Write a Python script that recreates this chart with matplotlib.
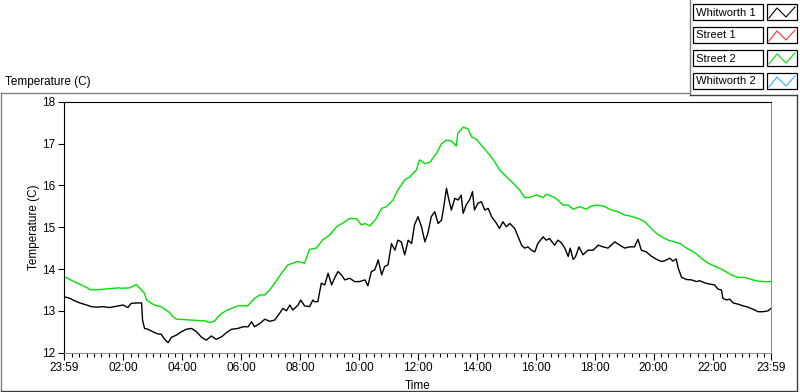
import numpy as np
import matplotlib
matplotlib.use("Agg")
import matplotlib.pyplot as plt
from matplotlib.patches import Rectangle
from matplotlib.lines import Line2D

plt.rcParams['font.family'] = ['Liberation Sans', 'DejaVu Sans']

# minutes after 23:59, temperatures
whit1_t = [0, 12, 22, 32, 46, 56, 66, 79, 93, 107, 120, 130, 137, 151, 158, 160, 164, 171, 181, 191,
           198, 205, 212, 219, 229, 239, 249, 260, 270, 280, 290, 300, 310, 321, 331, 341, 354, 365, 375, 382,
           388, 399, 409, 419, 429, 439, 446, 453, 460, 466, 477, 482, 490, 500, 507, 510, 517, 524, 531, 538,
           545, 551, 558, 565, 572, 582, 592, 602, 613, 619, 626, 633, 640, 647, 653, 660, 667, 674, 680, 687,
           694, 701, 708, 714, 721, 728, 735, 741, 748, 755, 762, 769, 773, 779, 784, 789, 796, 803, 809, 813,
           819, 826, 832, 836, 843, 850, 857, 864, 871, 881, 887, 894, 901, 908, 918, 925, 932, 938, 945, 952,
           959, 965, 976, 982, 989, 999, 1006, 1013, 1020, 1027, 1031, 1037, 1042, 1049, 1057, 1067, 1078, 1088, 1098, 1108,
           1122, 1132, 1142, 1152, 1162, 1169, 1176, 1186, 1196, 1207, 1217, 1224, 1234, 1240, 1247, 1251, 1258, 1268, 1278, 1288,
           1295, 1305, 1315, 1325, 1332, 1339, 1342, 1349, 1356, 1363, 1373, 1383, 1393, 1403, 1414, 1424, 1434, 1440]
whit1 = [13.34, 13.30, 13.24, 13.19, 13.14, 13.10, 13.09, 13.10, 13.08, 13.11, 13.14, 13.08, 13.18, 13.19, 13.19, 12.78, 12.58, 12.56, 12.50, 12.45,
         12.44, 12.32, 12.24, 12.37, 12.42, 12.50, 12.56, 12.58, 12.50, 12.37, 12.30, 12.40, 12.32, 12.38, 12.48, 12.56, 12.58, 12.62, 12.62, 12.74,
         12.62, 12.70, 12.80, 12.75, 12.78, 12.94, 13.06, 13.00, 13.14, 13.02, 13.14, 13.26, 13.12, 13.10, 13.26, 13.22, 13.22, 13.66, 13.62, 13.90,
         13.62, 13.78, 13.94, 13.86, 13.74, 13.78, 13.70, 13.70, 13.74, 13.60, 13.94, 13.98, 14.22, 13.86, 14.06, 14.10, 14.61, 14.45, 14.69, 14.65,
         14.34, 14.69, 14.61, 15.06, 15.25, 15.02, 14.65, 14.85, 15.25, 15.37, 15.09, 15.17, 15.45, 15.93, 15.65, 15.41, 15.69, 15.65, 15.77, 15.33,
         15.53, 15.65, 15.85, 15.41, 15.57, 15.61, 15.41, 15.45, 15.25, 15.09, 14.97, 15.13, 15.01, 15.09, 14.97, 14.77, 14.57, 14.50, 14.53, 14.45,
         14.41, 14.61, 14.77, 14.69, 14.73, 14.57, 14.69, 14.63, 14.50, 14.30, 14.50, 14.23, 14.30, 14.53, 14.34, 14.45, 14.45, 14.57, 14.53, 14.50,
         14.65, 14.57, 14.50, 14.53, 14.53, 14.71, 14.45, 14.41, 14.31, 14.23, 14.18, 14.20, 14.26, 14.19, 14.24, 14.02, 13.80, 13.75, 13.74, 13.70,
         13.72, 13.67, 13.64, 13.62, 13.52, 13.50, 13.30, 13.26, 13.28, 13.19, 13.16, 13.12, 13.09, 13.04, 12.98, 12.98, 13.00, 13.06]

street2_t = [0, 17, 35, 46, 52, 63, 111, 118, 134, 147, 164, 168, 178, 188, 198, 215, 222, 229, 232, 287,
             297, 307, 313, 321, 333, 354, 374, 388, 399, 409, 419, 429, 443, 456, 466, 476, 490, 500, 514, 527,
             541, 555, 568, 582, 596, 606, 613, 623, 636, 647, 657, 670, 680, 694, 704, 718, 724, 735, 745, 759,
             769, 779, 789, 799, 802, 813, 823, 830, 840, 853, 864, 877, 887, 901, 915, 928, 938, 948, 962, 976,
             982, 996, 1006, 1016, 1027, 1037, 1050, 1064, 1071, 1084, 1098, 1115, 1128, 1142, 1152, 1169, 1183, 1196, 1207, 1220,
             1231, 1255, 1268, 1285, 1298, 1312, 1325, 1342, 1359, 1373, 1387, 1403, 1414, 1424, 1440]
street2 = [13.82, 13.72, 13.62, 13.56, 13.51, 13.50, 13.55, 13.54, 13.55, 13.63, 13.42, 13.26, 13.18, 13.12, 13.10, 12.96, 12.86, 12.80, 12.80, 12.76,
           12.72, 12.76, 12.85, 12.94, 13.02, 13.12, 13.12, 13.30, 13.38, 13.38, 13.50, 13.66, 13.90, 14.10, 14.14, 14.18, 14.14, 14.47, 14.50, 14.70,
           14.81, 15.01, 15.10, 15.21, 15.20, 15.05, 15.09, 15.03, 15.21, 15.45, 15.49, 15.65, 15.89, 16.13, 16.20, 16.37, 16.61, 16.52, 16.55, 16.77,
           17.00, 17.08, 17.06, 16.94, 17.24, 17.39, 17.35, 17.16, 17.10, 16.92, 16.77, 16.57, 16.37, 16.21, 16.05, 15.89, 15.71, 15.71, 15.77, 15.71,
           15.79, 15.73, 15.65, 15.53, 15.53, 15.43, 15.49, 15.43, 15.49, 15.53, 15.51, 15.41, 15.37, 15.29, 15.27, 15.21, 15.13, 14.97, 14.85, 14.75,
           14.69, 14.61, 14.50, 14.39, 14.26, 14.14, 14.07, 13.98, 13.86, 13.80, 13.80, 13.74, 13.71, 13.70, 13.70]

major_ticks = [0, 121, 241, 361, 481, 601, 721, 841, 961, 1081, 1201, 1321, 1440]
major_labels = ["23:59", "02:00", "04:00", "06:00", "08:00", "10:00", "12:00",
                "14:00", "16:00", "18:00", "20:00", "22:00", "23:59"]
legend_names = ["Whitworth 1", "Street 1", "Street 2", "Whitworth 2"]
legend_colors = ["black", "#ff3030", "#00e000", "#30b0ff"]

W, H = 800, 392
fig = plt.figure(figsize=(8, 3.92), dpi=100)


def fx(x):
    return x / W


def fy(y):
    return 1 - y / H


ax = fig.add_axes([fx(64), fy(352.7), fx(771) - fx(64), fy(101.7) - fy(352.7)])
ax.plot(street2_t, street2, color="#00e000", lw=1)
ax.plot(whit1_t, whit1, color="black", lw=1)
ax.set_xlim(0, 1440)
ax.set_ylim(12, 18)
ax.set_yticks(range(12, 19))
ax.set_xticks(major_ticks)
ax.set_xticklabels(major_labels)
ax.set_xticks(np.arange(1, 1440, 15), minor=True)
ax.tick_params(axis="both", which="major", labelsize=8.5, length=4, width=0.8, pad=2)
ax.tick_params(axis="x", which="major", length=5)
ax.tick_params(axis="x", which="minor", length=3, width=0.8)
ax.spines["left"].set_color("black")
ax.spines["top"].set_color("black")
ax.spines["right"].set_color("#909090")
ax.spines["bottom"].set_color("#909090")
ax.set_ylabel("Temperature (C)", fontsize=8.5, labelpad=2)
ax.set_xlabel("Time", fontsize=8.5, labelpad=4)

# outer panel frame and caption
fig.text(fx(5), fy(82), "Temperature (C)", fontsize=8.5, va="center", ha="left")
fig.add_artist(Line2D([fx(0.5), fx(690)], [fy(92.5), fy(92.5)], color="#808080", lw=1))
fig.add_artist(Line2D([fx(0.5), fx(0.5)], [fy(92.5), fy(391.5)], color="#808080", lw=1))
fig.add_artist(Line2D([fx(0.5), fx(797)], [fy(391), fy(391)], color="#404040", lw=1))
fig.add_artist(Line2D([fx(797), fx(797)], [fy(95), fy(391)], color="#404040", lw=1))
fig.add_artist(Line2D([fx(689.5), fx(689.5)], [fy(0), fy(95)], color="#808080", lw=1))
fig.add_artist(Line2D([fx(689.5), fx(797)], [fy(95), fy(95)], color="#404040", lw=1))

# legend
for i, (name, col) in enumerate(zip(legend_names, legend_colors)):
    top = 4 + 23 * i
    fig.add_artist(Rectangle((fx(693), fy(top + 16)), fx(70), 16 / H, transform=fig.transFigure,
                             facecolor="white", edgecolor="black", lw=0.9))
    fig.text(fx(695.5), fy(top + 8.5), name, fontsize=8.1, va="center", ha="left")
    fig.add_artist(Rectangle((fx(767), fy(top + 16)), fx(30), 16 / H, transform=fig.transFigure,
                             facecolor="white", edgecolor="black", lw=0.9))
    fig.add_artist(Line2D([fx(769), fx(777), fx(786), fx(795)],
                          [fy(top + 14), fy(top + 4), fy(top + 13), fy(top + 3)], color=col, lw=0.8))

fig.savefig("out.png", dpi=100)
